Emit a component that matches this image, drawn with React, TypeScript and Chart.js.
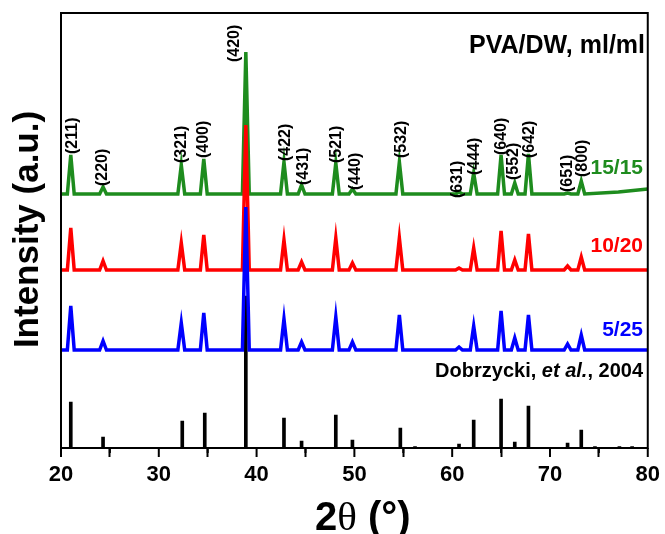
import React, { useEffect, useRef } from "react";
import { Chart, registerables } from "chart.js";
Chart.register(...registerables);

// ---- data ----
const peakPositions = [21.0, 24.3, 32.3, 34.6, 38.9, 42.8, 44.6, 48.1, 49.8, 54.6, 60.7, 62.2, 65.0, 66.4, 67.8, 71.8, 73.2];
const hklLabels = ["(211)", "(220)", "(321)", "(400)", "(420)", "(422)", "(431)", "(521)", "(440)", "(532)", "(631)", "(444)", "(640)", "(552)", "(642)", "(651)", "(800)"];
const green1515Tops = [293, 261, 283, 289, 396, 286, 263, 285, 259, 286, 256, 275, 293, 265, 294, 255, 267];
const red1020Tops = [220, 187, 205, 213, 323, 208, 186, 210, 185, 210, 180, 200, 217, 188, 214, 182, 191];
const blue525Tops = [142, 107, 125, 135, 241, 129, 106, 131, 106, 133, 101, 122, 137, 110, 133, 104, 113];
const green1515Base = 254;
const red1020Base = 178;
const blue525Base = 98;
const green1515Tail = [[77, 256], [80, 259]];
const red1020Tail = [[80, 178]];
const blue525Tail = [[80, 98]];

const refPositions = [21.0, 24.3, 32.4, 34.7, 38.9, 42.8, 44.6, 48.1, 49.8, 54.7, 56.2, 60.7, 62.2, 65.0, 66.4, 67.8, 71.8, 73.2, 74.6, 77.1, 78.4];
const refIntensities = [46, 11, 27, 35, 152, 30, 7, 33, 8, 20, 1.5, 4, 28, 49, 6, 42, 5, 18, 1.5, 1.5, 1.5];

const xTickValues = [20, 30, 40, 50, 60, 70, 80];
const xMinorTicks = [25, 35, 45, 55, 65, 75];

// ---- annotation placement (label centre x in degrees, label bottom in y units) ----
const hklLabelX = [21.15, 24.3, 32.35, 34.6, 37.7, 42.95, 44.85, 48.2, 50.1, 54.8, 60.55, 62.25, 65.05, 66.3, 67.95, 71.85, 73.3];
const hklLabelBottom = [294, 262, 285, 290, 386, 287, 263, 285, 258, 290, 250, 273, 293, 268, 290, 256, 271];

const FOOT = 0.35;
const SANS = '"Liberation Sans", Arial, sans-serif';
const SERIF = '"Liberation Serif", "Times New Roman", serif';
const GREEN = "#1e8c1e";
const RED = "#ff0000";
const BLUE = "#0000ff";

function profile(tops: number[], base: number, tail: number[][]) {
  const pts: { x: number; y: number }[] = [{ x: 20, y: base }];
  peakPositions.forEach((c, i) => {
    pts.push({ x: c - FOOT, y: base }, { x: c, y: tops[i] }, { x: c + FOOT, y: base });
  });
  tail.forEach(([x, y]) => pts.push({ x, y }));
  return pts;
}

const overlayPlugin = {
  id: "overlay",
  afterDraw(chart: any) {
    const { ctx, chartArea, scales } = chart;
    const x = scales.x;
    const y = scales.y;
    ctx.save();
    // frame
    ctx.strokeStyle = "#000";
    ctx.lineWidth = 2;
    ctx.strokeRect(chartArea.left, chartArea.top, chartArea.right - chartArea.left, chartArea.bottom - chartArea.top);
    // major and minor ticks
    xTickValues.forEach((v) => {
      const px = x.getPixelForValue(v);
      ctx.beginPath();
      ctx.moveTo(px, chartArea.bottom);
      ctx.lineTo(px, chartArea.bottom + 9);
      ctx.stroke();
    });
    xMinorTicks.forEach((v) => {
      const px = x.getPixelForValue(v);
      ctx.beginPath();
      ctx.moveTo(px, chartArea.bottom);
      ctx.lineTo(px, chartArea.bottom + 5);
      ctx.stroke();
    });
    // hkl labels
    ctx.fillStyle = "#000";
    ctx.font = `bold 16px ${SANS}`;
    ctx.textAlign = "left";
    ctx.textBaseline = "middle";
    hklLabels.forEach((t, i) => {
      const px = x.getPixelForValue(hklLabelX[i]);
      const py = y.getPixelForValue(hklLabelBottom[i]);
      ctx.save();
      ctx.translate(px, py);
      ctx.rotate(-Math.PI / 2);
      ctx.fillText(t, 0, 0);
      ctx.restore();
    });
    // series labels
    ctx.textAlign = "right";
    ctx.textBaseline = "alphabetic";
    ctx.font = `bold 21px ${SANS}`;
    ctx.fillStyle = GREEN;
    ctx.fillText("15/15", 643, 174);
    ctx.fillStyle = RED;
    ctx.fillText("10/20", 643, 252);
    ctx.fillStyle = BLUE;
    ctx.fillText("5/25", 643, 336);
    ctx.fillStyle = "#000";
    ctx.font = `bold 25px ${SANS}`;
    ctx.fillText("PVA/DW, ml/ml", 645, 53);
    // reference label with italic part
    ctx.textAlign = "left";
    const parts: [string, string][] = [
      ["Dobrzycki, ", `bold 20px ${SANS}`],
      ["et al.", `italic bold 20px ${SANS}`],
      [", 2004", `bold 20px ${SANS}`],
    ];
    let total = 0;
    parts.forEach(([t, f]) => { ctx.font = f; total += ctx.measureText(t).width; });
    let cx = 643 - total;
    parts.forEach(([t, f]) => { ctx.font = f; ctx.fillText(t, cx, 377); cx += ctx.measureText(t).width; });
    // y title
    ctx.save();
    ctx.translate(38, 229.5);
    ctx.rotate(-Math.PI / 2);
    ctx.textAlign = "center";
    ctx.textBaseline = "alphabetic";
    ctx.font = `bold 35px ${SANS}`;
    ctx.fillText("Intensity (a.u.)", 0, 0);
    ctx.restore();
    // x title: 2θ (°)
    let tx = 315;
    const ty = 530;
    ctx.textAlign = "left";
    ctx.font = `bold 40px ${SANS}`;
    ctx.fillText("2", tx, ty);
    tx += ctx.measureText("2").width;
    ctx.font = `41px ${SERIF}`;
    ctx.fillText("θ", tx, ty);
    tx += ctx.measureText("θ").width;
    ctx.font = `bold 40px ${SANS}`;
    ctx.fillText(" (°)", tx, ty);
    ctx.restore();
  },
};

export default function App() {
  const ref = useRef<HTMLCanvasElement | null>(null);
  useEffect(() => {
    document.body.style.margin = "0";
    const canvas = ref.current;
    if (!canvas) return;
    const chart = new Chart(canvas, {
      type: "line",
      data: {
        datasets: [
          {
            label: "5/25",
            data: profile(blue525Tops, blue525Base, blue525Tail),
            borderColor: BLUE,
            borderWidth: 3.5,
            pointRadius: 0,
            tension: 0,
            fill: false,
            order: 1,
          },
          {
            type: "bar",
            label: "Dobrzycki, et al., 2004",
            data: refPositions.map((p, i) => ({ x: p, y: refIntensities[i] })),
            backgroundColor: "#000",
            barThickness: 3,
            order: 2,
          } as any,
          {
            label: "10/20",
            data: profile(red1020Tops, red1020Base, red1020Tail),
            borderColor: RED,
            borderWidth: 3.5,
            pointRadius: 0,
            tension: 0,
            fill: false,
            order: 3,
          },
          {
            label: "15/15",
            data: profile(green1515Tops, green1515Base, green1515Tail),
            borderColor: GREEN,
            borderWidth: 3.5,
            pointRadius: 0,
            tension: 0,
            fill: false,
            order: 4,
          },
        ],
      },
      options: {
        responsive: false,
        animation: false,
        devicePixelRatio: 1,
        layout: { padding: { left: 61, right: 15, top: 13, bottom: 0 } },
        plugins: { legend: { display: false }, tooltip: { enabled: false } },
        scales: {
          x: {
            type: "linear",
            min: 20,
            max: 80,
            offset: false,
            afterFit: (s: any) => { s.height = 86; },
            afterBuildTicks: (s: any) => { s.ticks = xTickValues.map((v) => ({ value: v })); },
            ticks: {
              color: "#000",
              font: { family: SANS, size: 22, weight: "bold" },
              padding: 5,
              maxRotation: 0,
              autoSkip: false,
            },
            grid: { drawOnChartArea: false, drawTicks: true, tickLength: 9, tickWidth: 2, tickColor: "#000" },
            border: { display: true, color: "#000", width: 2 },
          },
          y: {
            type: "linear",
            min: 0,
            max: 435,
            display: false,
          },
        },
      },
      plugins: [overlayPlugin],
    } as any);
    return () => chart.destroy();
  }, []);
  return (
    <div style={{ width: 665, height: 534, background: "#fff" }}>
      <canvas ref={ref} width={665} height={534} />
    </div>
  );
}
